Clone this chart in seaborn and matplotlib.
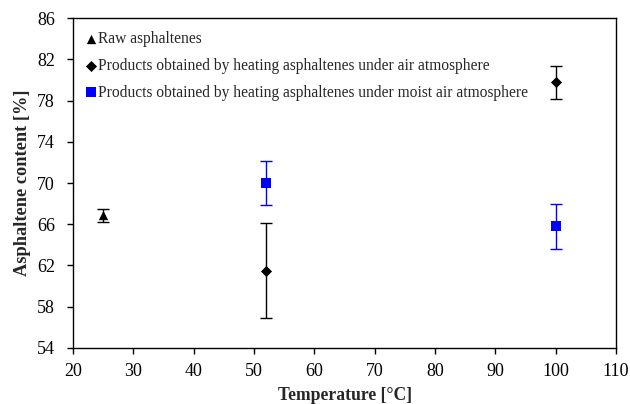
import numpy as np
import pandas as pd
import seaborn as sns
import matplotlib.pyplot as plt

# data
raw_temp = [25]
raw_val = [66.85]
raw_err = [0.65]

air_temp = [52, 100]
air_val = [61.5, 79.8]
air_err = [4.65, 1.6]

moist_temp = [52, 100]
moist_val = [70.0, 65.8]
moist_err = [2.1, 2.2]

labels = ['Raw asphaltenes',
          'Products obtained by heating asphaltenes under air atmosphere',
          'Products obtained by heating asphaltenes under moist air atmosphere']

sns.set_style('ticks')
plt.rcParams['font.family'] = ['Liberation Serif', 'DejaVu Serif']

fig = plt.figure(figsize=(6.3, 4.04), dpi=100)
ax = fig.add_axes([0.116, 0.139, 0.862, 0.816])

series = [
    (raw_temp, raw_val, raw_err, 'black', '^', 45),
    (air_temp, air_val, air_err, 'black', 'D', 32),
    (moist_temp, moist_val, moist_err, '#0000ff', 's', 60),
]

for (t, v, e, c, m, s), lab in zip(series, labels):
    ax.errorbar(t, v, yerr=e, fmt='none', ecolor=c, elinewidth=1.0,
                capsize=4, capthick=1.0, zorder=2)
    df = pd.DataFrame({'T': t, 'v': v})
    sns.scatterplot(data=df, x='T', y='v', marker=m, color=c, s=s,
                    edgecolor=c, linewidth=0, ax=ax, label=lab, zorder=3)

ax.set_xlim(20, 110)
ax.set_ylim(54, 86)
ax.set_xticks(np.arange(20, 111, 10))
ax.set_yticks(np.arange(54, 87, 4))
ax.tick_params(direction='out', length=4, width=1, labelsize=13, colors='black')
ax.tick_params(axis='x', pad=7)
ax.tick_params(axis='y', pad=9)
for sp in ax.spines.values():
    sp.set_linewidth(1.0)
    sp.set_color('black')

ax.set_xlabel('Temperature [°C]', fontsize=12.7, fontweight='bold', labelpad=5)
ax.set_ylabel('Asphaltene content [%]', fontsize=13.2, fontweight='bold', labelpad=4)

leg = ax.legend(loc='upper left', frameon=False, fontsize=11.2, handletextpad=0.0,
                handlelength=1.0, labelspacing=0.68, borderaxespad=0.0, borderpad=0.0,
                bbox_to_anchor=(0.018, 0.96))

fig.savefig('out.png', dpi=100)
